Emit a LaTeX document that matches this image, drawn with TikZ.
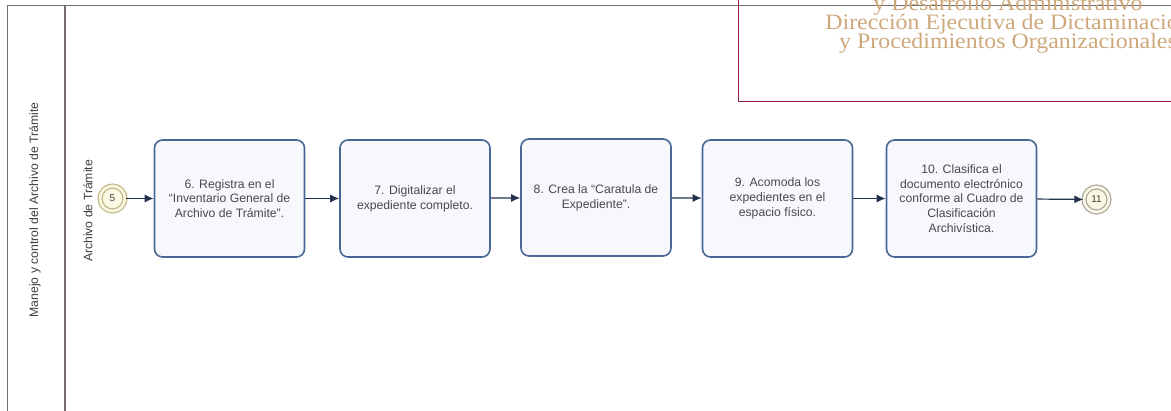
\documentclass[tikz,border=0pt]{standalone}
\usepackage{fontspec}
\setmainfont{Liberation Sans}
\newfontfamily\headerserif{Liberation Serif}
\usetikzlibrary{arrows.meta}

\definecolor{framegray}{RGB}{118,108,108}
\definecolor{taskedge}{RGB}{72,102,150}
\definecolor{taskfill}{RGB}{246,248,252}
\definecolor{tasktext}{RGB}{72,72,82}
\definecolor{flowblue}{RGB}{35,50,78}
\definecolor{ringgold}{RGB}{196,186,132}
\definecolor{ringgray}{RGB}{172,170,158}
\definecolor{eventfill}{RGB}{251,249,230}
\definecolor{headred}{RGB}{155,32,62}
\definecolor{headtan}{RGB}{205,168,122}
\definecolor{labelgray}{RGB}{62,62,66}

\tikzset{
  taskbox/.style={draw=taskedge, line width=1.6pt, fill=taskfill, rounded corners=8pt,
    minimum width=150pt, minimum height=117pt, align=center, text=tasktext,
    font=\fontsize{12.2}{14.7}\selectfont, inner sep=3pt},
  eventring/.style={circle, draw=#1, line width=1.3pt, double=eventfill, double distance=2.6pt,
    fill=eventfill, minimum size=25pt, inner sep=0pt, text=labelgray,
    font=\fontsize{10}{12}\selectfont},
  flow/.style={draw=flowblue, line width=1.2pt, -{Latex[length=9pt,width=8pt]}},
  framestroke/.style={draw=framegray, line width=1.3pt},
  lanelabel/.style={rotate=90, text=labelgray, font=\fontsize{12.2}{14}\selectfont},
  headline/.style={anchor=base, text=headtan, font=\headerserif\fontsize{22}{22}\selectfont,
    inner sep=0pt, transform shape, xscale=1.085}
}

\begin{document}
\begin{tikzpicture}[x=1pt, y=-1pt]
  \useasboundingbox (0,0) rectangle (1171,410);
  \clip (0,0) rectangle (1171,410);

  % pool and lane frame
  \draw[framestroke] (7.5,430) -- (7.5,5.5) -- (1190,5.5);
  \draw[framestroke] (65,5.5) -- (65,430);

  % header box of the directorate
  \draw[draw=headred, line width=1.5pt] (1190,-20) -- (738.5,-20) -- (738.5,101.5) -- (1190,101.5);
  \node[headline] (h1) at (1008,10) {y Desarrollo Administrativo};
  \node[headline] (h2) at (1008,29.5) {Dirección Ejecutiva de Dictaminación};
  \node[headline] (h3) at (1008,48.5) {y Procedimientos Organizacionales};

  % pool and lane labels
  \node[lanelabel] (pool) at (35,210) {Manejo y control del Archivo de Trámite};
  \node[lanelabel] (lane) at (88,211) {Archivo de Trámite};

  % events
  \node[eventring=ringgold] (e5) at (112.5,198.5) {5};
  \node[eventring=ringgray] (e11) at (1096.5,199.5) {11};

  % tasks
  \node[taskbox] (t6) at (229.5,198.5) {6. Registra en el\\“Inventario General de\\Archivo de Trámite”.};
  \node[taskbox] (t7) at (415,198.5) {7. Digitalizar el\\expediente completo.};
  \node[taskbox] (t8) at (596,197.5) {8. Crea la “Caratula de\\Expediente”.};
  \node[taskbox] (t9) at (777.5,198.5) {9. Acomoda los\\expedientes en el\\espacio físico.};
  \node[taskbox] (t10) at (961.5,198.5) {10. Clasifica el\\documento electrónico\\conforme al Cuadro de\\Clasificación\\Archivística.};

  % sequence flows
  \draw[flow] (e5) -- (t6);
  \draw[flow] (t6) -- (t7);
  \draw[flow] (t7) -- (t8);
  \draw[flow] (t8) -- (t9);
  \draw[flow] (t9) -- (t10);
  \draw[flow] (t10) -- (e11);
\end{tikzpicture}
\end{document}
